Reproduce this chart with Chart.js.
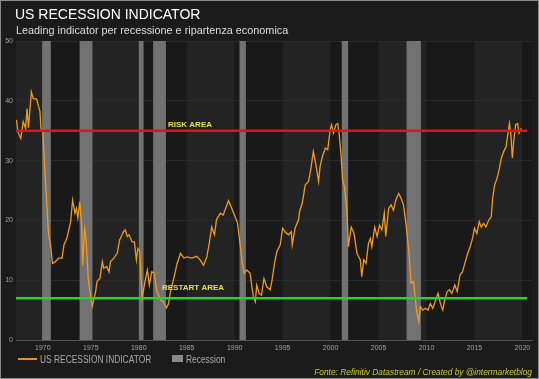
<!DOCTYPE html>
<html>
<head>
<meta charset="utf-8">
<script src="https://cdn.jsdelivr.net/npm/chart.js@4"></script>
<style>
html,body{margin:0;padding:0;background:#1b1b1b;}
#wrap{width:539px;height:379px;position:relative;}
</style>
</head>
<body>
<div id="wrap"><canvas id="c"></canvas></div>
<script>
// ---- data ----
const dates = [1967.25,1967.4,1967.7,1967.95,1968.2,1968.35,1968.5,1968.8,1969.0,1969.35,1969.7,1969.8,
1970.0,1970.2,1970.4,1970.6,1970.8,1971.0,1971.3,1971.65,1972.0,1972.2,1972.5,1972.9,1973.1,1973.35,1973.5,1973.65,1973.85,
1974.05,1974.15,1974.35,1974.5,1974.75,1975.0,1975.15,1975.5,1975.65,1975.95,1976.2,1976.35,1976.65,1976.9,1977.05,1977.4,1977.75,
1978.0,1978.4,1978.6,1978.8,1979.0,1979.3,1979.55,1979.75,1979.9,1980.1,1980.35,1980.65,1980.9,1981.1,1981.35,1981.6,1981.9,
1982.3,1982.55,1982.9,1983.1,1983.3,1983.65,1984.0,1984.35,1984.7,1985.05,1985.5,1986.05,1986.4,1986.75,1987.1,1987.35,1987.6,1987.9,
1988.1,1988.5,1988.8,1989.2,1989.35,1989.7,1990.05,1990.3,1990.55,1990.8,1991.0,1991.25,1991.6,1991.8,1991.95,1992.15,1992.3,1992.55,1992.8,
1993.05,1993.35,1993.7,1993.9,1994.15,1994.4,1994.75,1995.0,1995.25,1995.6,1995.9,1996.0,1996.3,1996.65,1996.8,1997.05,1997.35,1997.7,1997.95,
1998.2,1998.45,1998.75,1998.9,1999.15,1999.45,1999.7,1999.95,2000.1,2000.3,2000.55,2000.75,2000.9,2001.1,2001.25,2001.45,2001.7,2001.85,
2002.15,2002.45,2002.75,2003.1,2003.25,2003.45,2003.7,2003.95,2004.15,2004.3,2004.6,2004.85,2005.1,2005.35,2005.6,2005.75,2006.05,2006.3,2006.55,2006.8,
2007.1,2007.35,2007.6,2007.85,2008.15,2008.4,2008.65,2008.85,2009.0,2009.2,2009.35,2009.6,2009.9,2010.15,2010.4,2010.65,2010.9,2011.2,2011.45,2011.7,2011.9,
2012.15,2012.4,2012.65,2012.95,2013.2,2013.5,2013.75,2014.05,2014.3,2014.55,2014.8,2015.0,2015.25,2015.5,2015.7,2015.95,2016.2,2016.5,2016.75,2016.9,
2017.1,2017.35,2017.6,2017.8,2018.05,2018.3,2018.5,2018.65,2018.8,2018.95,2019.1,2019.3,2019.5,2019.65,2019.9];
const indicator = [36.8,34.8,33.7,36.5,35.4,38.7,35.5,41.5,40.4,40.3,38.2,35.4,
34.8,28.7,23.1,17.6,15.9,12.8,13.1,13.7,13.7,15.9,17.0,19.8,23.4,21.2,22.0,20.4,23.1,
19.0,12.5,18.6,17.0,10.0,7.0,5.6,8.1,9.8,10.3,13.1,12.0,12.3,11.4,13.1,13.7,14.5,
16.7,18.1,18.4,17.3,17.6,16.4,16.4,13.4,15.3,14.8,7.0,9.8,11.7,9.2,11.4,11.2,8.1,
6.7,6.4,5.4,6.1,8.1,10.3,12.8,14.5,13.7,13.9,13.7,14.0,13.4,12.5,13.9,16.2,18.9,17.6,
20.1,21.2,20.9,22.6,23.3,22.0,20.6,19.5,16.2,12.8,11.2,11.7,11.2,8.9,7.2,6.4,9.2,7.8,7.5,
10.3,8.9,8.4,10.0,12.8,14.8,15.9,18.7,18.1,17.6,18.1,15.9,18.7,20.1,21.7,22.9,25.9,26.5,28.7,
31.5,29.5,26.5,29.0,30.7,32.1,31.8,35.1,36.0,34.6,36.0,36.2,34.3,30.7,26.8,25.6,21.7,15.6,
18.9,17.8,14.5,13.4,10.6,13.4,12.8,16.2,17.0,15.6,18.9,17.3,19.2,18.4,21.2,17.3,22.0,22.6,21.7,23.4,
24.5,23.7,22.6,19.5,15.1,9.5,9.8,6.7,4.5,3.1,5.6,5.0,5.3,5.0,6.1,5.3,6.4,7.8,6.1,5.0,6.7,
8.1,8.4,7.8,9.2,8.1,10.9,11.4,13.1,14.5,15.6,17.0,18.7,17.8,19.8,18.9,19.5,18.9,20.1,20.6,23.7,
25.9,27.0,28.7,30.4,31.5,32.3,34.6,36.2,34.3,30.4,33.4,36.0,36.2,34.6,35.4];
const recessionStart = [1969.92,1973.83,1980.0,1981.5,1990.5,2001.17,2007.92];
const recessionEnd   = [1970.83,1975.17,1980.5,1982.83,1991.17,2001.83,2009.42];
const xTickLabels = [1970,1975,1980,1985,1990,1995,2000,2005,2010,2015,2020];
const yTickLabels = [0,10,20,30,40,50];
const riskLevel = 35;
const restartLevel = 7;
const seriesName = "US RECESSION INDICATOR";
const recessionName = "Recession";
const titleText = "US RECESSION INDICATOR";
const subtitleText = "Leading indicator per recessione e ripartenza economica";
const sourceText = "Fonte: Refinitiv Datastream / Created by @intermarketblog";

const FONT = "'Liberation Sans', Arial, sans-serif";

function condensedText(ctx, text, x, y, sx) {
  ctx.save();
  ctx.translate(x, y);
  ctx.scale(sx, 1);
  ctx.fillText(text, 0, 0);
  ctx.restore();
}

const decor = {
  id: 'decor',
  beforeDraw(chart) {
    const ctx = chart.ctx, a = chart.chartArea, x = chart.scales.x;
    ctx.save();
    ctx.fillStyle = '#1b1b1b';
    ctx.fillRect(0, 0, chart.width, chart.height);
    for (let y0 = 1965; y0 < 2025; y0 += 5) {
      const l = Math.max(a.left, x.getPixelForValue(y0));
      const r = Math.min(a.right, x.getPixelForValue(y0 + 5));
      if (r <= l) continue;
      ctx.fillStyle = (((y0 - 1965) / 5) % 2 === 0) ? '#232323' : '#191919';
      ctx.fillRect(l, a.top, r - l, a.bottom - a.top);
    }
    ctx.restore();
  },
  beforeDatasetsDraw(chart) {
    const ctx = chart.ctx, a = chart.chartArea, x = chart.scales.x;
    ctx.save();
    ctx.fillStyle = '#727272';
    for (let i = 0; i < recessionStart.length; i++) {
      const l = x.getPixelForValue(recessionStart[i]);
      const r = x.getPixelForValue(recessionEnd[i]);
      ctx.fillRect(l, a.top, r - l, a.bottom - a.top);
    }
    ctx.restore();
  },
  afterDatasetsDraw(chart) {
    const ctx = chart.ctx, a = chart.chartArea, y = chart.scales.y, x = chart.scales.x;
    ctx.save();
    ctx.lineWidth = 2.5;
    const yr = y.getPixelForValue(riskLevel);
    ctx.strokeStyle = '#e01515';
    ctx.beginPath(); ctx.moveTo(a.left, yr); ctx.lineTo(x.getPixelForValue(2020.5), yr); ctx.stroke();
    const yg = y.getPixelForValue(restartLevel);
    ctx.strokeStyle = '#22d822';
    ctx.beginPath(); ctx.moveTo(a.left, yg); ctx.lineTo(x.getPixelForValue(2020.5), yg); ctx.stroke();
    ctx.fillStyle = '#e2e23c';
    ctx.font = "bold 8px " + FONT;
    ctx.textBaseline = 'alphabetic';
    ctx.textAlign = 'left';
    ctx.fillText('RISK AREA', 168, yr - 4);
    ctx.fillText('RESTART AREA', 162, yg - 8);
    ctx.restore();
  },
  afterDraw(chart) {
    const ctx = chart.ctx;
    ctx.save();
    ctx.textAlign = 'left';
    ctx.textBaseline = 'alphabetic';
    ctx.fillStyle = '#ffffff';
    ctx.font = "14px " + FONT;
    ctx.fillText(titleText, 15, 19);
    ctx.fillStyle = '#dcdcdc';
    ctx.font = "11px " + FONT;
    condensedText(ctx, subtitleText, 16, 34, 0.985);
    ctx.strokeStyle = '#e8941c';
    ctx.lineWidth = 2;
    ctx.beginPath(); ctx.moveTo(18, 359); ctx.lineTo(37, 359); ctx.stroke();
    ctx.fillStyle = '#a8a8a8';
    ctx.font = "10px " + FONT;
    condensedText(ctx, seriesName, 40, 362.5, 0.84);
    ctx.fillStyle = '#8a8a8a';
    ctx.fillRect(172, 355, 11, 7);
    ctx.fillStyle = '#a8a8a8';
    condensedText(ctx, recessionName, 186, 362.5, 0.84);
    ctx.fillStyle = '#c9c92a';
    ctx.font = "italic 9px " + FONT;
    const w = ctx.measureText(sourceText).width * 0.93;
    condensedText(ctx, sourceText, 532 - w, 375, 0.93);
    ctx.strokeStyle = '#8a8a8a';
    ctx.lineWidth = 1;
    ctx.strokeRect(0.5, 0.5, chart.width - 1, chart.height - 1);
    ctx.restore();
  }
};

new Chart(document.getElementById('c'), {
  type: 'line',
  data: {
    datasets: [{
      label: seriesName,
      data: dates.map((d, i) => ({ x: d, y: indicator[i] })),
      borderColor: '#ef9a1e',
      borderWidth: 1.3,
      pointRadius: 0,
      tension: 0,
      fill: false
    }]
  },
  options: {
    animation: false,
    responsive: true,
    maintainAspectRatio: false,
    layout: { padding: { left: 0, right: 7, top: 41, bottom: 0 } },
    plugins: { legend: { display: false }, tooltip: { enabled: false }, title: { display: false } },
    scales: {
      x: {
        type: 'linear',
        min: 1967.2,
        max: 2021.0,
        afterBuildTicks: s => { s.ticks = xTickLabels.map(v => ({ value: v })); },
        afterFit: s => { s.height = 39; },
        grid: { display: false, drawTicks: false },
        border: { display: true, color: '#555555', width: 1 },
        ticks: { color: '#a0a0a0', font: { size: 7, family: FONT }, padding: 4, maxRotation: 0, autoSkip: false,
                 callback: v => String(v) }
      },
      y: {
        min: 0,
        max: 50,
        afterBuildTicks: s => { s.ticks = yTickLabels.map(v => ({ value: v })); },
        afterFit: s => { s.width = 16; },
        grid: { color: '#2a2a2a', drawTicks: false, lineWidth: 1 },
        border: { display: false },
        ticks: { color: '#a0a0a0', font: { size: 7, family: FONT }, padding: 3 }
      }
    }
  },
  plugins: [decor]
});
</script>
</body>
</html>
